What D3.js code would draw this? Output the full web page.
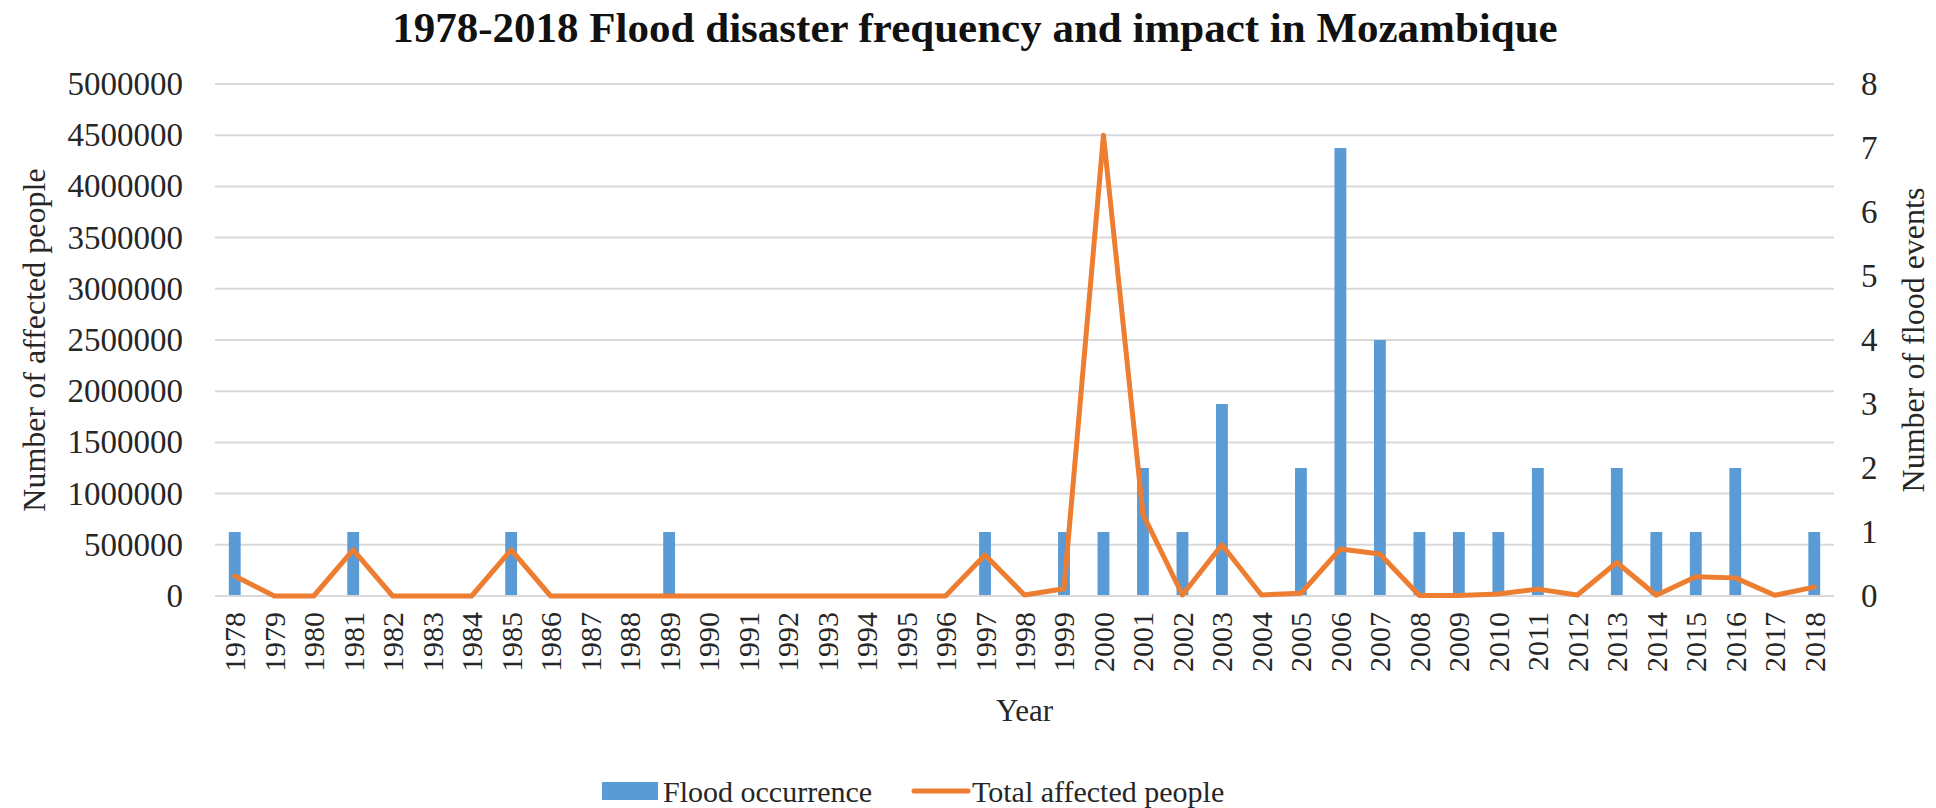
<!DOCTYPE html>
<html>
<head>
<meta charset="utf-8">
<script src="https://cdn.jsdelivr.net/npm/d3@7"></script>
<style>
  html, body { margin: 0; padding: 0; background: #ffffff; }
  svg { display: block; font-family: "Liberation Serif", "Times New Roman", serif; }
</style>
</head>
<body>
<svg id="chart" width="1936" height="808"></svg>
<script>
// Years on the category axis
const years = ["1978","1979","1980","1981","1982","1983","1984","1985","1986","1987",
  "1988","1989","1990","1991","1992","1993","1994","1995","1996","1997","1998","1999",
  "2000","2001","2002","2003","2004","2005","2006","2007","2008","2009","2010","2011",
  "2012","2013","2014","2015","2016","2017","2018"];

// Number of flood events per year (right axis)
const floodEvents = [1,0,0,1,0,0,0,1,0,0,0,1,0,0,0,0,0,0,0,1,0,1,1,2,1,3,0,2,7,4,1,1,1,2,0,2,1,1,2,0,1];

// Total affected people per year (left axis)
const affectedPeople = [195000,0,0,450000,0,0,0,450000,0,0,0,0,0,0,0,0,0,0,0,400000,10000,70000,
  4500000,800000,10000,500000,10000,27000,460000,410000,5000,5000,20000,67000,10000,327000,
  7000,187000,177000,7000,87000];

// Tick values for the two value axes
const leftTicks = [0,500000,1000000,1500000,2000000,2500000,3000000,3500000,4000000,4500000,5000000];
const rightTicks = [0,1,2,3,4,5,6,7,8];

const svg = d3.select("#chart");
const W = 1936, H = 808;
const plot = { left: 215, right: 1834, top: 84, bottom: 596 };

const barColor = "#5B9BD5";
const lineColor = "#ED7D31";
const gridColor = "#d9d9d9";
const textColor = "#262626";
const serif = "Liberation Serif, Times New Roman, serif";

svg.append("rect").attr("width", W).attr("height", H).attr("fill", "#ffffff");

const x = d3.scaleBand().domain(years).range([plot.left, plot.right]).paddingInner(0).paddingOuter(0);
const yLeft = d3.scaleLinear().domain([0, 5000000]).range([plot.bottom, plot.top]);
const yRight = d3.scaleLinear().domain([0, 8]).range([plot.bottom, plot.top]);

// Horizontal gridlines
svg.append("g").selectAll("line").data(leftTicks).join("line")
  .attr("x1", plot.left).attr("x2", plot.right)
  .attr("y1", d => yLeft(d)).attr("y2", d => yLeft(d))
  .attr("stroke", gridColor).attr("stroke-width", 2);

// Left axis
const axL = svg.append("g").attr("transform", `translate(${plot.left},0)`)
  .call(d3.axisLeft(yLeft).tickValues(leftTicks).tickSize(0).tickPadding(32).tickFormat(d3.format("d")));
axL.select(".domain").remove();
axL.selectAll("text").attr("font-size", 33).attr("fill", textColor).attr("font-family", serif);

// Right axis
const axR = svg.append("g").attr("transform", `translate(${plot.right},0)`)
  .call(d3.axisRight(yRight).tickValues(rightTicks).tickSize(0).tickPadding(27).tickFormat(d3.format("d")));
axR.select(".domain").remove();
axR.selectAll("text").attr("font-size", 33).attr("fill", textColor).attr("font-family", serif);

// Bars: flood occurrence
const barW = x.bandwidth() * 0.3;
svg.append("g").selectAll("rect").data(years.map((yr, i) => ({ yr, v: floodEvents[i] })).filter(d => d.v > 0))
  .join("rect")
  .attr("x", d => x(d.yr) + x.bandwidth() / 2 - barW / 2)
  .attr("y", d => yRight(d.v))
  .attr("width", barW)
  .attr("height", d => yRight(0) - yRight(d.v))
  .attr("fill", barColor);

// Category axis line
svg.append("line").attr("x1", plot.left).attr("x2", plot.right)
  .attr("y1", plot.bottom).attr("y2", plot.bottom)
  .attr("stroke", gridColor).attr("stroke-width", 2);

// Line: total affected people
const line = d3.line()
  .x((d, i) => x(years[i]) + x.bandwidth() / 2)
  .y(d => yLeft(d));
svg.append("path").datum(affectedPeople)
  .attr("d", line)
  .attr("fill", "none")
  .attr("stroke", lineColor)
  .attr("stroke-width", 5)
  .attr("stroke-linejoin", "round")
  .attr("stroke-linecap", "round");

// Category labels, rotated
const axX = svg.append("g").attr("transform", `translate(0,${plot.bottom})`)
  .call(d3.axisBottom(x).tickSize(0).tickPadding(0));
axX.select(".domain").remove();
axX.selectAll("text")
  .attr("font-size", 30).attr("fill", textColor).attr("font-family", serif)
  .attr("text-anchor", "end")
  .attr("dy", "0.35em")
  .attr("transform", "translate(0,16) rotate(-90)")
  .attr("x", 0).attr("y", 0);

// Title
svg.append("text")
  .attr("x", 975).attr("y", 42)
  .attr("text-anchor", "middle")
  .attr("font-size", 43).attr("font-weight", "bold").attr("fill", "#111111")
  .text("1978-2018 Flood disaster frequency and impact in Mozambique");

// Axis titles
svg.append("text")
  .attr("transform", `translate(34,${(plot.top + plot.bottom) / 2}) rotate(-90)`)
  .attr("text-anchor", "middle").attr("dy", "0.35em")
  .attr("font-size", 32).attr("fill", textColor)
  .text("Number of affected people");

svg.append("text")
  .attr("transform", `translate(1913,${(plot.top + plot.bottom) / 2}) rotate(-90)`)
  .attr("text-anchor", "middle").attr("dy", "0.35em")
  .attr("font-size", 32).attr("fill", textColor)
  .text("Number of flood events");

svg.append("text")
  .attr("x", (plot.left + plot.right) / 2).attr("y", 710)
  .attr("text-anchor", "middle").attr("dy", "0.35em")
  .attr("font-size", 31).attr("fill", textColor)
  .text("Year");

// Legend
const legend = svg.append("g").attr("transform", "translate(0,791)");
legend.append("rect").attr("x", 602).attr("y", -9).attr("width", 56).attr("height", 18).attr("fill", barColor);
legend.append("text").attr("x", 663).attr("y", 0).attr("dy", "0.35em")
  .attr("font-size", 30).attr("fill", textColor).text("Flood occurrence");
legend.append("line").attr("x1", 914).attr("x2", 968).attr("y1", 0).attr("y2", 0)
  .attr("stroke", lineColor).attr("stroke-width", 5).attr("stroke-linecap", "round");
legend.append("text").attr("x", 972).attr("y", 0).attr("dy", "0.35em")
  .attr("font-size", 30).attr("fill", textColor).text("Total affected people");
</script>
</body>
</html>
